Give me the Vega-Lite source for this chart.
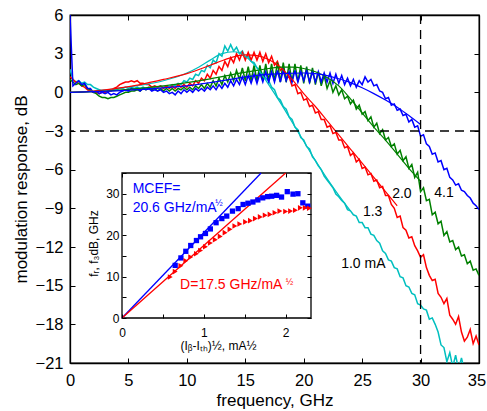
{
"$schema": "https://vega.github.io/schema/vega-lite/v6.json",
"width": 409, "height": 348,
"autosize": {"type": "none"},
"padding": {"left": 70, "top": 15, "right": 8, "bottom": 48},
"config": {"font": "Liberation Sans", "view": {"stroke": "black", "strokeWidth": 1.3},
  "axis": {"grid": false, "labelFlush": false, "domainColor": "black", "tickColor": "black", "labelColor": "black", "titleColor": "black", "titleFontWeight": "normal", "domainWidth": 1.3, "tickWidth": 1}},
"datasets": {
"meas": [
{"s":"c","f":0,"v":1.8},{"s":"c","f":0.25,"v":1.0},{"s":"c","f":0.5,"v":0.8},{"s":"c","f":0.75,"v":0.9},{"s":"c","f":1,"v":0.7},{"s":"c","f":1.25,"v":0.8},{"s":"c","f":1.5,"v":0.6},{"s":"c","f":1.75,"v":0.6},{"s":"c","f":2,"v":0.4},{"s":"c","f":2.25,"v":0.3},{"s":"c","f":2.5,"v":0.2},{"s":"c","f":2.75,"v":0.1},{"s":"c","f":3,"v":0.0},{"s":"c","f":3.25,"v":0.1},{"s":"c","f":3.5,"v":0.1},{"s":"c","f":3.75,"v":0.2},{"s":"c","f":4,"v":0.2},{"s":"c","f":4.25,"v":0.3},{"s":"c","f":4.5,"v":0.3},{"s":"c","f":4.75,"v":0.4},{"s":"c","f":5,"v":0.3},{"s":"c","f":5.25,"v":0.4},{"s":"c","f":5.5,"v":0.3},{"s":"c","f":5.75,"v":0.4},{"s":"c","f":6,"v":0.3},{"s":"c","f":6.25,"v":0.4},{"s":"c","f":6.5,"v":0.3},{"s":"c","f":6.75,"v":0.4},{"s":"c","f":7,"v":0.3},{"s":"c","f":7.25,"v":0.4},{"s":"c","f":7.5,"v":0.3},{"s":"c","f":7.75,"v":0.5},{"s":"c","f":8,"v":0.4},{"s":"c","f":8.25,"v":0.5},{"s":"c","f":8.5,"v":0.4},{"s":"c","f":8.75,"v":0.6},{"s":"c","f":9,"v":0.5},{"s":"c","f":9.25,"v":0.7},{"s":"c","f":9.5,"v":0.6},{"s":"c","f":9.75,"v":0.9},{"s":"c","f":10,"v":0.8},{"s":"c","f":10.25,"v":1.1},{"s":"c","f":10.5,"v":1.0},{"s":"c","f":10.75,"v":1.4},{"s":"c","f":11,"v":1.3},{"s":"c","f":11.25,"v":1.7},{"s":"c","f":11.5,"v":1.6},{"s":"c","f":11.75,"v":2.1},{"s":"c","f":12,"v":1.9},{"s":"c","f":12.25,"v":2.5},{"s":"c","f":12.5,"v":2.3},{"s":"c","f":12.75,"v":3.0},{"s":"c","f":13,"v":2.8},{"s":"c","f":13.25,"v":3.6},{"s":"c","f":13.5,"v":3.2},{"s":"c","f":13.75,"v":3.7},{"s":"c","f":14,"v":3.2},{"s":"c","f":14.25,"v":3.5},{"s":"c","f":14.5,"v":3.0},{"s":"c","f":14.75,"v":3.2},{"s":"c","f":15,"v":2.7},{"s":"c","f":15.25,"v":2.8},{"s":"c","f":15.5,"v":2.4},{"s":"c","f":15.75,"v":2.3},{"s":"c","f":16,"v":1.9},{"s":"c","f":16.25,"v":1.7},{"s":"c","f":16.5,"v":1.4},{"s":"c","f":16.75,"v":1.1},{"s":"c","f":17,"v":0.9},{"s":"c","f":17.25,"v":0.4},{"s":"c","f":17.5,"v":0.2},{"s":"c","f":17.75,"v":-0.4},{"s":"c","f":18,"v":-0.6},{"s":"c","f":18.25,"v":-1.1},{"s":"c","f":18.5,"v":-1.3},{"s":"c","f":18.75,"v":-1.9},{"s":"c","f":19,"v":-2.1},{"s":"c","f":19.25,"v":-2.7},{"s":"c","f":19.5,"v":-2.9},{"s":"c","f":19.75,"v":-3.5},{"s":"c","f":20,"v":-3.7},{"s":"c","f":20.25,"v":-4.2},{"s":"c","f":20.5,"v":-4.4},{"s":"c","f":20.75,"v":-5.0},{"s":"c","f":21,"v":-5.3},{"s":"c","f":21.25,"v":-5.7},{"s":"c","f":21.5,"v":-6.0},{"s":"c","f":21.75,"v":-6.5},{"s":"c","f":22,"v":-6.8},{"s":"c","f":22.25,"v":-7.1},{"s":"c","f":22.5,"v":-7.4},{"s":"c","f":22.75,"v":-7.9},{"s":"c","f":23,"v":-8.1},{"s":"c","f":23.25,"v":-8.4},{"s":"c","f":23.5,"v":-8.6},{"s":"c","f":23.75,"v":-9.1},{"s":"c","f":24,"v":-9.2},{"s":"c","f":24.25,"v":-9.5},{"s":"c","f":24.5,"v":-9.6},{"s":"c","f":24.75,"v":-10.1},{"s":"c","f":25,"v":-10.1},{"s":"c","f":25.25,"v":-10.5},{"s":"c","f":25.5,"v":-10.5},{"s":"c","f":25.75,"v":-11.0},{"s":"c","f":26,"v":-11.1},{"s":"c","f":26.25,"v":-11.5},{"s":"c","f":26.5,"v":-11.7},{"s":"c","f":26.75,"v":-12.3},{"s":"c","f":27,"v":-12.5},{"s":"c","f":27.25,"v":-13.0},{"s":"c","f":27.5,"v":-13.1},{"s":"c","f":27.75,"v":-13.6},{"s":"c","f":28,"v":-13.7},{"s":"c","f":28.25,"v":-14.3},{"s":"c","f":28.5,"v":-14.4},{"s":"c","f":28.75,"v":-15.0},{"s":"c","f":29,"v":-15.1},{"s":"c","f":29.25,"v":-15.6},{"s":"c","f":29.5,"v":-15.7},{"s":"c","f":29.75,"v":-16.4},{"s":"c","f":30,"v":-16.5},{"s":"c","f":30.25,"v":-16.8},{"s":"c","f":30.5,"v":-16.9},{"s":"c","f":30.75,"v":-17.6},{"s":"c","f":31,"v":-17.5},{"s":"c","f":31.25,"v":-18.0},{"s":"c","f":31.5,"v":-18.6},{"s":"c","f":31.75,"v":-19.6},{"s":"c","f":32,"v":-19.8},{"s":"c","f":32.25,"v":-20.9},{"s":"c","f":32.5,"v":-20.2},{"s":"c","f":32.75,"v":-21.3},{"s":"c","f":33,"v":-20.4},{"s":"c","f":33.25,"v":-21.5},{"s":"c","f":33.5,"v":-20.6},{"s":"c","f":33.75,"v":-21.6},
{"s":"r","f":0,"v":1.2},{"s":"r","f":0.25,"v":1.0},{"s":"r","f":0.5,"v":0.8},{"s":"r","f":0.75,"v":0.7},{"s":"r","f":1,"v":0.5},{"s":"r","f":1.25,"v":0.4},{"s":"r","f":1.5,"v":0.2},{"s":"r","f":1.75,"v":0.1},{"s":"r","f":2,"v":0.0},{"s":"r","f":2.25,"v":0.0},{"s":"r","f":2.5,"v":-0.1},{"s":"r","f":2.75,"v":0.0},{"s":"r","f":3,"v":0.0},{"s":"r","f":3.25,"v":0.1},{"s":"r","f":3.5,"v":0.1},{"s":"r","f":3.75,"v":0.3},{"s":"r","f":4,"v":0.4},{"s":"r","f":4.25,"v":0.6},{"s":"r","f":4.5,"v":0.7},{"s":"r","f":4.75,"v":0.8},{"s":"r","f":5,"v":0.8},{"s":"r","f":5.25,"v":0.9},{"s":"r","f":5.5,"v":0.8},{"s":"r","f":5.75,"v":0.9},{"s":"r","f":6,"v":0.7},{"s":"r","f":6.25,"v":0.7},{"s":"r","f":6.5,"v":0.6},{"s":"r","f":6.75,"v":0.6},{"s":"r","f":7,"v":0.4},{"s":"r","f":7.25,"v":0.5},{"s":"r","f":7.5,"v":0.4},{"s":"r","f":7.75,"v":0.5},{"s":"r","f":8,"v":0.3},{"s":"r","f":8.25,"v":0.5},{"s":"r","f":8.5,"v":0.3},{"s":"r","f":8.75,"v":0.5},{"s":"r","f":9,"v":0.3},{"s":"r","f":9.25,"v":0.6},{"s":"r","f":9.5,"v":0.4},{"s":"r","f":9.75,"v":0.6},{"s":"r","f":10,"v":0.4},{"s":"r","f":10.25,"v":0.7},{"s":"r","f":10.5,"v":0.5},{"s":"r","f":10.75,"v":0.9},{"s":"r","f":11,"v":0.7},{"s":"r","f":11.25,"v":1.1},{"s":"r","f":11.5,"v":0.9},{"s":"r","f":11.75,"v":1.4},{"s":"r","f":12,"v":1.1},{"s":"r","f":12.25,"v":1.7},{"s":"r","f":12.5,"v":1.4},{"s":"r","f":12.75,"v":2.0},{"s":"r","f":13,"v":1.7},{"s":"r","f":13.25,"v":2.4},{"s":"r","f":13.5,"v":2.0},{"s":"r","f":13.75,"v":2.7},{"s":"r","f":14,"v":2.3},{"s":"r","f":14.25,"v":3.0},{"s":"r","f":14.5,"v":2.5},{"s":"r","f":14.75,"v":3.1},{"s":"r","f":15,"v":2.5},{"s":"r","f":15.25,"v":3.1},{"s":"r","f":15.5,"v":2.5},{"s":"r","f":15.75,"v":3.1},{"s":"r","f":16,"v":2.5},{"s":"r","f":16.25,"v":3.1},{"s":"r","f":16.5,"v":2.4},{"s":"r","f":16.75,"v":3.0},{"s":"r","f":17,"v":2.3},{"s":"r","f":17.25,"v":2.8},{"s":"r","f":17.5,"v":2.1},{"s":"r","f":17.75,"v":2.4},{"s":"r","f":18,"v":1.7},{"s":"r","f":18.25,"v":1.9},{"s":"r","f":18.5,"v":1.1},{"s":"r","f":18.75,"v":1.2},{"s":"r","f":19,"v":0.5},{"s":"r","f":19.25,"v":0.6},{"s":"r","f":19.5,"v":-0.1},{"s":"r","f":19.75,"v":0.0},{"s":"r","f":20,"v":-0.6},{"s":"r","f":20.25,"v":-0.5},{"s":"r","f":20.5,"v":-1.1},{"s":"r","f":20.75,"v":-1.0},{"s":"r","f":21,"v":-1.6},{"s":"r","f":21.25,"v":-1.5},{"s":"r","f":21.5,"v":-2.1},{"s":"r","f":21.75,"v":-2.1},{"s":"r","f":22,"v":-2.7},{"s":"r","f":22.25,"v":-2.6},{"s":"r","f":22.5,"v":-3.2},{"s":"r","f":22.75,"v":-3.1},{"s":"r","f":23,"v":-3.7},{"s":"r","f":23.25,"v":-3.7},{"s":"r","f":23.5,"v":-4.3},{"s":"r","f":23.75,"v":-4.2},{"s":"r","f":24,"v":-4.9},{"s":"r","f":24.25,"v":-4.7},{"s":"r","f":24.5,"v":-5.4},{"s":"r","f":24.75,"v":-5.2},{"s":"r","f":25,"v":-5.9},{"s":"r","f":25.25,"v":-5.8},{"s":"r","f":25.5,"v":-6.4},{"s":"r","f":25.75,"v":-6.3},{"s":"r","f":26,"v":-6.9},{"s":"r","f":26.25,"v":-6.8},{"s":"r","f":26.5,"v":-7.4},{"s":"r","f":26.75,"v":-7.3},{"s":"r","f":27,"v":-8.0},{"s":"r","f":27.25,"v":-8.0},{"s":"r","f":27.5,"v":-8.7},{"s":"r","f":27.75,"v":-9.0},{"s":"r","f":28,"v":-9.7},{"s":"r","f":28.25,"v":-9.6},{"s":"r","f":28.5,"v":-10.5},{"s":"r","f":28.75,"v":-10.7},{"s":"r","f":29,"v":-11.3},{"s":"r","f":29.25,"v":-11.2},{"s":"r","f":29.5,"v":-11.9},{"s":"r","f":29.75,"v":-12.3},{"s":"r","f":30,"v":-12.8},{"s":"r","f":30.25,"v":-12.6},{"s":"r","f":30.5,"v":-13.6},{"s":"r","f":30.75,"v":-14.2},{"s":"r","f":31,"v":-14.6},{"s":"r","f":31.25,"v":-14.5},{"s":"r","f":31.5,"v":-15.6},{"s":"r","f":31.75,"v":-15.9},{"s":"r","f":32,"v":-16.4},{"s":"r","f":32.25,"v":-16.0},{"s":"r","f":32.5,"v":-17.3},{"s":"r","f":32.75,"v":-17.6},{"s":"r","f":33,"v":-18.0},{"s":"r","f":33.25,"v":-17.4},{"s":"r","f":33.5,"v":-18.6},{"s":"r","f":33.75,"v":-19.3},{"s":"r","f":34,"v":-19.0},{"s":"r","f":34.25,"v":-18.4},{"s":"r","f":34.5,"v":-19.5},{"s":"r","f":34.75,"v":-18.9},{"s":"r","f":35,"v":-19.6},
{"s":"g","f":0,"v":1.0},{"s":"g","f":0.25,"v":0.8},{"s":"g","f":0.5,"v":0.6},{"s":"g","f":0.75,"v":0.7},{"s":"g","f":1,"v":0.5},{"s":"g","f":1.25,"v":0.6},{"s":"g","f":1.5,"v":0.3},{"s":"g","f":1.75,"v":0.2},{"s":"g","f":2,"v":0.0},{"s":"g","f":2.25,"v":-0.1},{"s":"g","f":2.5,"v":-0.3},{"s":"g","f":2.75,"v":-0.4},{"s":"g","f":3,"v":-0.4},{"s":"g","f":3.25,"v":-0.5},{"s":"g","f":3.5,"v":-0.4},{"s":"g","f":3.75,"v":-0.4},{"s":"g","f":4,"v":-0.3},{"s":"g","f":4.25,"v":-0.2},{"s":"g","f":4.5,"v":-0.1},{"s":"g","f":4.75,"v":0.0},{"s":"g","f":5,"v":0.0},{"s":"g","f":5.25,"v":0.1},{"s":"g","f":5.5,"v":0.1},{"s":"g","f":5.75,"v":0.2},{"s":"g","f":6,"v":0.1},{"s":"g","f":6.25,"v":0.3},{"s":"g","f":6.5,"v":0.2},{"s":"g","f":6.75,"v":0.3},{"s":"g","f":7,"v":0.2},{"s":"g","f":7.25,"v":0.3},{"s":"g","f":7.5,"v":0.1},{"s":"g","f":7.75,"v":0.3},{"s":"g","f":8,"v":0.1},{"s":"g","f":8.25,"v":0.3},{"s":"g","f":8.5,"v":0.1},{"s":"g","f":8.75,"v":0.3},{"s":"g","f":9,"v":0.1},{"s":"g","f":9.25,"v":0.3},{"s":"g","f":9.5,"v":0.2},{"s":"g","f":9.75,"v":0.4},{"s":"g","f":10,"v":0.2},{"s":"g","f":10.25,"v":0.4},{"s":"g","f":10.5,"v":0.2},{"s":"g","f":10.75,"v":0.5},{"s":"g","f":11,"v":0.3},{"s":"g","f":11.25,"v":0.6},{"s":"g","f":11.5,"v":0.3},{"s":"g","f":11.75,"v":0.7},{"s":"g","f":12,"v":0.4},{"s":"g","f":12.25,"v":0.9},{"s":"g","f":12.5,"v":0.5},{"s":"g","f":12.75,"v":1.1},{"s":"g","f":13,"v":0.6},{"s":"g","f":13.25,"v":1.3},{"s":"g","f":13.5,"v":0.8},{"s":"g","f":13.75,"v":1.5},{"s":"g","f":14,"v":0.9},{"s":"g","f":14.25,"v":1.7},{"s":"g","f":14.5,"v":1.0},{"s":"g","f":14.75,"v":1.9},{"s":"g","f":15,"v":0.9},{"s":"g","f":15.25,"v":2.0},{"s":"g","f":15.5,"v":0.9},{"s":"g","f":15.75,"v":2.1},{"s":"g","f":16,"v":0.9},{"s":"g","f":16.25,"v":2.1},{"s":"g","f":16.5,"v":0.9},{"s":"g","f":16.75,"v":2.2},{"s":"g","f":17,"v":0.9},{"s":"g","f":17.25,"v":2.2},{"s":"g","f":17.5,"v":0.9},{"s":"g","f":17.75,"v":2.3},{"s":"g","f":18,"v":0.8},{"s":"g","f":18.25,"v":2.3},{"s":"g","f":18.5,"v":0.8},{"s":"g","f":18.75,"v":2.2},{"s":"g","f":19,"v":0.8},{"s":"g","f":19.25,"v":2.2},{"s":"g","f":19.5,"v":0.8},{"s":"g","f":19.75,"v":2.1},{"s":"g","f":20,"v":0.7},{"s":"g","f":20.25,"v":2.0},{"s":"g","f":20.5,"v":0.7},{"s":"g","f":20.75,"v":1.9},{"s":"g","f":21,"v":0.6},{"s":"g","f":21.25,"v":1.6},{"s":"g","f":21.5,"v":0.5},{"s":"g","f":21.75,"v":1.3},{"s":"g","f":22,"v":0.3},{"s":"g","f":22.25,"v":0.9},{"s":"g","f":22.5,"v":0.0},{"s":"g","f":22.75,"v":0.5},{"s":"g","f":23,"v":-0.2},{"s":"g","f":23.25,"v":0.2},{"s":"g","f":23.5,"v":-0.5},{"s":"g","f":23.75,"v":-0.3},{"s":"g","f":24,"v":-0.9},{"s":"g","f":24.25,"v":-0.6},{"s":"g","f":24.5,"v":-1.3},{"s":"g","f":24.75,"v":-1.0},{"s":"g","f":25,"v":-1.7},{"s":"g","f":25.25,"v":-1.5},{"s":"g","f":25.5,"v":-2.2},{"s":"g","f":25.75,"v":-1.9},{"s":"g","f":26,"v":-2.7},{"s":"g","f":26.25,"v":-2.4},{"s":"g","f":26.5,"v":-3.2},{"s":"g","f":26.75,"v":-2.9},{"s":"g","f":27,"v":-3.7},{"s":"g","f":27.25,"v":-3.5},{"s":"g","f":27.5,"v":-4.2},{"s":"g","f":27.75,"v":-4.0},{"s":"g","f":28,"v":-4.8},{"s":"g","f":28.25,"v":-4.5},{"s":"g","f":28.5,"v":-5.3},{"s":"g","f":28.75,"v":-5.0},{"s":"g","f":29,"v":-5.9},{"s":"g","f":29.25,"v":-5.6},{"s":"g","f":29.5,"v":-6.6},{"s":"g","f":29.75,"v":-6.2},{"s":"g","f":30,"v":-7.7},{"s":"g","f":30.25,"v":-7.4},{"s":"g","f":30.5,"v":-8.4},{"s":"g","f":30.75,"v":-8.3},{"s":"g","f":31,"v":-9.5},{"s":"g","f":31.25,"v":-9.3},{"s":"g","f":31.5,"v":-10.2},{"s":"g","f":31.75,"v":-10.0},{"s":"g","f":32,"v":-11.1},{"s":"g","f":32.25,"v":-10.8},{"s":"g","f":32.5,"v":-11.6},{"s":"g","f":32.75,"v":-11.5},{"s":"g","f":33,"v":-12.2},{"s":"g","f":33.25,"v":-12.0},{"s":"g","f":33.5,"v":-12.7},{"s":"g","f":33.75,"v":-12.6},{"s":"g","f":34,"v":-13.3},{"s":"g","f":34.25,"v":-13.1},{"s":"g","f":34.5,"v":-13.8},{"s":"g","f":34.75,"v":-13.7},{"s":"g","f":35,"v":-14.2},
{"s":"b","f":0,"v":6.0},{"s":"b","f":0.25,"v":0.5},{"s":"b","f":0.5,"v":0.7},{"s":"b","f":0.75,"v":0.9},{"s":"b","f":1,"v":0.6},{"s":"b","f":1.25,"v":0.7},{"s":"b","f":1.5,"v":0.3},{"s":"b","f":1.75,"v":0.3},{"s":"b","f":2,"v":0.0},{"s":"b","f":2.25,"v":0.1},{"s":"b","f":2.5,"v":-0.1},{"s":"b","f":2.75,"v":0.0},{"s":"b","f":3,"v":-0.1},{"s":"b","f":3.25,"v":0.0},{"s":"b","f":3.5,"v":-0.2},{"s":"b","f":3.75,"v":-0.1},{"s":"b","f":4,"v":-0.2},{"s":"b","f":4.25,"v":0.0},{"s":"b","f":4.5,"v":0.1},{"s":"b","f":4.75,"v":0.2},{"s":"b","f":5,"v":0.1},{"s":"b","f":5.25,"v":0.3},{"s":"b","f":5.5,"v":0.2},{"s":"b","f":5.75,"v":0.3},{"s":"b","f":6,"v":0.1},{"s":"b","f":6.25,"v":0.3},{"s":"b","f":6.5,"v":0.2},{"s":"b","f":6.75,"v":0.3},{"s":"b","f":7,"v":0.1},{"s":"b","f":7.25,"v":0.2},{"s":"b","f":7.5,"v":0.1},{"s":"b","f":7.75,"v":0.2},{"s":"b","f":8,"v":0.0},{"s":"b","f":8.25,"v":0.1},{"s":"b","f":8.5,"v":-0.1},{"s":"b","f":8.75,"v":0.0},{"s":"b","f":9,"v":-0.2},{"s":"b","f":9.25,"v":0.1},{"s":"b","f":9.5,"v":-0.1},{"s":"b","f":9.75,"v":0.2},{"s":"b","f":10,"v":0.0},{"s":"b","f":10.25,"v":0.2},{"s":"b","f":10.5,"v":0.0},{"s":"b","f":10.75,"v":0.3},{"s":"b","f":11,"v":0.1},{"s":"b","f":11.25,"v":0.3},{"s":"b","f":11.5,"v":0.1},{"s":"b","f":11.75,"v":0.4},{"s":"b","f":12,"v":0.2},{"s":"b","f":12.25,"v":0.5},{"s":"b","f":12.5,"v":0.2},{"s":"b","f":12.75,"v":0.6},{"s":"b","f":13,"v":0.3},{"s":"b","f":13.25,"v":0.7},{"s":"b","f":13.5,"v":0.4},{"s":"b","f":13.75,"v":0.9},{"s":"b","f":14,"v":0.5},{"s":"b","f":14.25,"v":1.0},{"s":"b","f":14.5,"v":0.6},{"s":"b","f":14.75,"v":1.2},{"s":"b","f":15,"v":0.6},{"s":"b","f":15.25,"v":1.3},{"s":"b","f":15.5,"v":0.7},{"s":"b","f":15.75,"v":1.4},{"s":"b","f":16,"v":0.7},{"s":"b","f":16.25,"v":1.5},{"s":"b","f":16.5,"v":0.8},{"s":"b","f":16.75,"v":1.6},{"s":"b","f":17,"v":0.8},{"s":"b","f":17.25,"v":1.6},{"s":"b","f":17.5,"v":0.8},{"s":"b","f":17.75,"v":1.7},{"s":"b","f":18,"v":0.8},{"s":"b","f":18.25,"v":1.7},{"s":"b","f":18.5,"v":0.9},{"s":"b","f":18.75,"v":1.6},{"s":"b","f":19,"v":0.8},{"s":"b","f":19.25,"v":1.7},{"s":"b","f":19.5,"v":0.8},{"s":"b","f":19.75,"v":1.6},{"s":"b","f":20,"v":0.9},{"s":"b","f":20.25,"v":1.7},{"s":"b","f":20.5,"v":0.8},{"s":"b","f":20.75,"v":1.6},{"s":"b","f":21,"v":0.8},{"s":"b","f":21.25,"v":1.6},{"s":"b","f":21.5,"v":0.8},{"s":"b","f":21.75,"v":1.5},{"s":"b","f":22,"v":0.8},{"s":"b","f":22.25,"v":1.5},{"s":"b","f":22.5,"v":0.7},{"s":"b","f":22.75,"v":1.4},{"s":"b","f":23,"v":0.7},{"s":"b","f":23.25,"v":1.3},{"s":"b","f":23.5,"v":0.6},{"s":"b","f":23.75,"v":1.1},{"s":"b","f":24,"v":0.5},{"s":"b","f":24.25,"v":1.0},{"s":"b","f":24.5,"v":0.4},{"s":"b","f":24.75,"v":0.9},{"s":"b","f":25,"v":0.6},{"s":"b","f":25.25,"v":1.2},{"s":"b","f":25.5,"v":0.8},{"s":"b","f":25.75,"v":1.0},{"s":"b","f":26,"v":0.5},{"s":"b","f":26.25,"v":0.6},{"s":"b","f":26.5,"v":0.1},{"s":"b","f":26.75,"v":0.0},{"s":"b","f":27,"v":-0.5},{"s":"b","f":27.25,"v":-0.4},{"s":"b","f":27.5,"v":-1.0},{"s":"b","f":27.75,"v":-0.9},{"s":"b","f":28,"v":-1.4},{"s":"b","f":28.25,"v":-1.3},{"s":"b","f":28.5,"v":-1.8},{"s":"b","f":28.75,"v":-1.7},{"s":"b","f":29,"v":-2.3},{"s":"b","f":29.25,"v":-2.1},{"s":"b","f":29.5,"v":-2.7},{"s":"b","f":29.75,"v":-2.6},{"s":"b","f":30,"v":-3.4},{"s":"b","f":30.25,"v":-3.3},{"s":"b","f":30.5,"v":-4.0},{"s":"b","f":30.75,"v":-4.2},{"s":"b","f":31,"v":-4.8},{"s":"b","f":31.25,"v":-4.7},{"s":"b","f":31.5,"v":-5.4},{"s":"b","f":31.75,"v":-5.3},{"s":"b","f":32,"v":-6.0},{"s":"b","f":32.25,"v":-5.9},{"s":"b","f":32.5,"v":-6.6},{"s":"b","f":32.75,"v":-6.8},{"s":"b","f":33,"v":-7.2},{"s":"b","f":33.25,"v":-7.1},{"s":"b","f":33.5,"v":-7.6},{"s":"b","f":33.75,"v":-7.7},{"s":"b","f":34,"v":-8.0},{"s":"b","f":34.25,"v":-8.2},{"s":"b","f":34.5,"v":-8.6},{"s":"b","f":34.75,"v":-8.8},{"s":"b","f":35,"v":-9.1}
],
"fit": [
{"s":"c","f":0,"v":0},{"s":"c","f":2,"v":0.1},{"s":"c","f":4,"v":0.3},{"s":"c","f":6,"v":0.55},{"s":"c","f":8,"v":0.9},{"s":"c","f":10,"v":1.5},{"s":"c","f":11,"v":1.95},{"s":"c","f":12,"v":2.5},{"s":"c","f":13,"v":3.0},{"s":"c","f":14,"v":3.15},{"s":"c","f":15,"v":2.8},{"s":"c","f":16,"v":1.9},{"s":"c","f":17,"v":0.6},{"s":"c","f":18,"v":-0.8},{"s":"c","f":19,"v":-2.3},{"s":"c","f":20,"v":-3.8},{"s":"c","f":21,"v":-5.3},{"s":"c","f":22,"v":-6.7},{"s":"c","f":23,"v":-8.0},{"s":"c","f":24,"v":-9.2},
{"s":"r","f":0,"v":0},{"s":"r","f":2,"v":0.1},{"s":"r","f":4,"v":0.3},{"s":"r","f":6,"v":0.6},{"s":"r","f":8,"v":1.0},{"s":"r","f":10,"v":1.45},{"s":"r","f":12,"v":2.1},{"s":"r","f":13,"v":2.45},{"s":"r","f":14,"v":2.75},{"s":"r","f":15,"v":2.9},{"s":"r","f":16,"v":2.85},{"s":"r","f":17,"v":2.55},{"s":"r","f":18,"v":1.95},{"s":"r","f":19,"v":1.0},{"s":"r","f":20,"v":-0.1},{"s":"r","f":21,"v":-1.1},{"s":"r","f":22,"v":-2.2},{"s":"r","f":23,"v":-3.3},{"s":"r","f":24,"v":-4.4},{"s":"r","f":25,"v":-5.5},{"s":"r","f":26,"v":-6.6},{"s":"r","f":27,"v":-7.7},{"s":"r","f":28,"v":-8.8},
{"s":"g","f":0,"v":0},{"s":"g","f":2,"v":0.05},{"s":"g","f":4,"v":0.15},{"s":"g","f":6,"v":0.3},{"s":"g","f":8,"v":0.5},{"s":"g","f":10,"v":0.75},{"s":"g","f":12,"v":1.05},{"s":"g","f":14,"v":1.4},{"s":"g","f":16,"v":1.7},{"s":"g","f":17,"v":1.85},{"s":"g","f":18,"v":1.95},{"s":"g","f":19,"v":1.95},{"s":"g","f":20,"v":1.85},{"s":"g","f":21,"v":1.6},{"s":"g","f":22,"v":1.15},{"s":"g","f":23,"v":0.5},{"s":"g","f":24,"v":-0.5},{"s":"g","f":25,"v":-1.6},{"s":"g","f":26,"v":-2.7},{"s":"g","f":27,"v":-3.7},{"s":"g","f":28,"v":-4.8},{"s":"g","f":29,"v":-5.9},{"s":"g","f":30,"v":-6.9},
{"s":"b","f":0,"v":0},{"s":"b","f":2,"v":0.05},{"s":"b","f":4,"v":0.12},{"s":"b","f":6,"v":0.22},{"s":"b","f":8,"v":0.35},{"s":"b","f":10,"v":0.5},{"s":"b","f":12,"v":0.75},{"s":"b","f":14,"v":1.05},{"s":"b","f":15,"v":1.2},{"s":"b","f":16,"v":1.32},{"s":"b","f":18,"v":1.45},{"s":"b","f":20,"v":1.5},{"s":"b","f":21,"v":1.45},{"s":"b","f":22,"v":1.3},{"s":"b","f":23,"v":1.05},{"s":"b","f":24,"v":0.75},{"s":"b","f":25,"v":0.35},{"s":"b","f":26,"v":-0.1},{"s":"b","f":27,"v":-0.6},{"s":"b","f":28,"v":-1.15},{"s":"b","f":29,"v":-1.8},{"s":"b","f":30,"v":-2.5}
],
"curvelabels": [
{"f":32.0,"v":-7.8,"t":"4.1"},{"f":28.4,"v":-7.9,"t":"2.0"},{"f":25.9,"v":-9.3,"t":"1.3"},{"f":25.1,"v":-13.3,"t":"1.0 mA"}
],
"sq": [
{"x":0.65,"y":12.7},{"x":0.72,"y":14.5},{"x":0.78,"y":16.1},{"x":0.84,"y":17.5},{"x":0.91,"y":18.7},{"x":0.96,"y":19.6},{"x":1.02,"y":20.4},{"x":1.08,"y":21.5},{"x":1.15,"y":23.0},{"x":1.22,"y":24.0},{"x":1.28,"y":24.6},{"x":1.35,"y":25.8},{"x":1.42,"y":26.4},{"x":1.48,"y":27.4},{"x":1.54,"y":27.7},{"x":1.60,"y":28.0},{"x":1.66,"y":28.5},{"x":1.72,"y":29.0},{"x":1.78,"y":29.3},{"x":1.83,"y":29.4},{"x":1.89,"y":29.6},{"x":1.95,"y":29.2},{"x":2.02,"y":30.5},{"x":2.09,"y":29.9},{"x":2.15,"y":30.0},{"x":2.21,"y":27.8},{"x":2.27,"y":27.0}
],
"tri": [
{"x":0.59,"y":9.9},{"x":0.65,"y":11.2},{"x":0.72,"y":12.6},{"x":0.78,"y":13.8},{"x":0.84,"y":14.7},{"x":0.91,"y":15.5},{"x":0.96,"y":16.3},{"x":1.02,"y":17.2},{"x":1.08,"y":18.1},{"x":1.14,"y":18.9},{"x":1.20,"y":19.7},{"x":1.26,"y":20.6},{"x":1.32,"y":21.4},{"x":1.38,"y":22.2},{"x":1.44,"y":22.7},{"x":1.51,"y":23.2},{"x":1.57,"y":23.5},{"x":1.63,"y":24.0},{"x":1.69,"y":24.4},{"x":1.75,"y":24.8},{"x":1.81,"y":25.0},{"x":1.87,"y":25.4},{"x":1.93,"y":25.8},{"x":2.00,"y":25.7},{"x":2.06,"y":25.8},{"x":2.12,"y":26.0},{"x":2.18,"y":26.6},{"x":2.24,"y":26.6},{"x":2.29,"y":26.5}
],
"slopes": [
{"s":"b","x":0,"y":0},{"s":"b","x":1.7,"y":35},{"s":"r","x":0,"y":0},{"s":"r","x":2.0,"y":35}
],
"notes": [
{"s":"b","x":0.13,"y":31.1,"t":"MCEF="},{"s":"b","x":0.13,"y":26.6,"t":"20.6 GHz/mA"},{"s":"r","x":0.71,"y":8.0,"t":"D=17.5 GHz/mA"}
],
"halves": [
{"s":"b","x":1.14,"y":27.7,"t":"½"},{"s":"r","x":2.0,"y":8.8,"t":"½"}
]
},
"layer": [
{
"layer": [
{"data": {"name": "meas"}, "mark": {"type": "line", "strokeWidth": 1.5, "clip": true},
 "encoding": {
  "x": {"field": "f", "type": "quantitative", "scale": {"domain": [0, 35], "nice": false, "zero": false},
    "axis": {"orient": "bottom", "values": [0,5,10,15,20,25,30,35], "tickSize": -5, "labelPadding": 14, "labelFontSize": 16.5, "labelFlush": false, "labelOffset": {"condition": {"test": "datum.value === 35", "value": -2.5}, "value": 0}, "title": "frequency, GHz", "titleFontSize": 17, "titleX": 204.5, "titleY": 42, "titleBaseline": "alphabetic", "titleAlign": "center"}},
  "y": {"field": "v", "type": "quantitative", "scale": {"domain": [-21, 6], "nice": false, "zero": false},
    "axis": {"orient": "left", "values": [-21,-18,-15,-12,-9,-6,-3,0,3,6], "format": "d", "tickSize": -5, "labelPadding": 12, "labelFontSize": 16.5, "labelFlush": false, "title": "modulation response, dB", "titleFontSize": 17, "titleX": -43.5, "titleY": 174, "titleAngle": -90, "titleBaseline": "alphabetic", "titleAlign": "center"}},
  "color": {"field": "s", "type": "nominal", "scale": {"domain": ["c","r","g","b"], "range": ["#00BFBF","#FF0000","#008000","#0000FF"]}, "legend": null}
 }},
{"data": {"name": "fit"}, "mark": {"type": "line", "strokeWidth": 1.2, "interpolate": "monotone", "clip": true},
 "encoding": {
  "x": {"field": "f", "type": "quantitative", "scale": {"domain": [0, 35], "nice": false, "zero": false},
    "axis": {"orient": "top", "values": [0,5,10,15,20,25,30,35], "tickSize": -5, "labels": false, "title": null}},
  "y": {"field": "v", "type": "quantitative", "scale": {"domain": [-21, 6], "nice": false, "zero": false},
    "axis": {"orient": "right", "values": [-21,-18,-15,-12,-9,-6,-3,0,3,6], "tickSize": -5, "labels": false, "title": null}},
  "color": {"field": "s", "type": "nominal", "scale": {"domain": ["c","r","g","b"], "range": ["#00BFBF","#FF0000","#008000","#0000FF"]}, "legend": null}
 }},
{"data": {"values": [{"v": -3}]}, "mark": {"type": "rule", "color": "black", "strokeWidth": 1.3, "strokeDash": [9, 6]},
 "encoding": {"y": {"field": "v", "type": "quantitative", "scale": {"domain": [-21, 6], "nice": false, "zero": false}, "axis": null}}},
{"data": {"values": [{"f": 30}]}, "mark": {"type": "rule", "color": "black", "strokeWidth": 1.3, "strokeDash": [9, 6]},
 "encoding": {"x": {"field": "f", "type": "quantitative", "scale": {"domain": [0, 35], "nice": false, "zero": false}, "axis": null}}},
{"data": {"name": "curvelabels"}, "mark": {"type": "text", "fontSize": 14, "align": "center", "baseline": "middle", "color": "black"},
 "encoding": {
  "x": {"field": "f", "type": "quantitative", "scale": {"domain": [0, 35], "nice": false, "zero": false}, "axis": null},
  "y": {"field": "v", "type": "quantitative", "scale": {"domain": [-21, 6], "nice": false, "zero": false}, "axis": null},
  "text": {"field": "t"}
 }}
]
},
{
"layer": [
{"data": {"values": [{}]}, "mark": {"type": "rect", "fill": "white", "stroke": "black", "strokeWidth": 1.3},
 "encoding": {
  "x": {"datum": 0, "type": "quantitative", "scale": {"domain": [0, 2.31], "range": [52, 241], "nice": false, "zero": false}, "axis": null},
  "x2": {"datum": 2.31},
  "y": {"datum": 0, "type": "quantitative", "scale": {"domain": [0, 35], "range": [303, 158], "nice": false, "zero": false}, "axis": null},
  "y2": {"datum": 35}
 }},
{"data": {"name": "slopes"}, "mark": {"type": "line", "strokeWidth": 1.3},
 "encoding": {
  "x": {"field": "x", "type": "quantitative", "scale": {"domain": [0, 2.31], "range": [52, 241], "nice": false, "zero": false},
    "axis": {"orient": "top", "offset": -158, "values": [0,0.5,1,1.5,2], "tickSize": -4, "labels": false, "title": null, "domain": false, "zindex": 1}},
  "y": {"field": "y", "type": "quantitative", "scale": {"domain": [0, 35], "range": [303, 158], "nice": false, "zero": false},
    "axis": {"orient": "right", "offset": -168, "values": [0,5,10,15,20,25,30,35], "tickSize": -4, "labels": false, "title": null, "domain": false, "zindex": 1}},
  "color": {"field": "s", "type": "nominal", "scale": {"domain": ["c","r","g","b"], "range": ["#00BFBF","#FF0000","#008000","#0000FF"]}, "legend": null}
 }},
{"data": {"name": "sq"}, "mark": {"type": "point", "shape": "square", "filled": true, "size": 28, "opacity": 1, "color": "#0000FF"},
 "encoding": {
  "x": {"field": "x", "type": "quantitative", "scale": {"domain": [0, 2.31], "range": [52, 241], "nice": false, "zero": false},
    "axis": {"orient": "bottom", "offset": -45, "values": [0,0.5,1,1.5,2], "labelExpr": "datum.value % 1 === 0 ? format(datum.value, 'd') : ''", "tickSize": -4, "labelPadding": 13, "labelFontSize": 12, "labelFlush": false, "domain": false, "zindex": 1,
      "title": "(Iᵦ-Iₜₕ)½, mA½", "titleFontSize": 12, "titleX": 148, "titleY": 31, "titleBaseline": "alphabetic", "titleAlign": "center"}},
  "y": {"field": "y", "type": "quantitative", "scale": {"domain": [0, 35], "range": [303, 158], "nice": false, "zero": false},
    "axis": {"orient": "left", "offset": -52, "values": [0,5,10,15,20,25,30,35], "labelExpr": "datum.value % 10 === 0 ? format(datum.value, 'd') : ''", "tickSize": -4, "labelPadding": 7, "labelFontSize": 12, "labelFlush": false, "domain": false, "zindex": 1,
      "title": "fᵣ, f₃dB, GHz", "titleFontSize": 12, "titleX": -25, "titleY": 228, "titleAngle": -90, "titleBaseline": "alphabetic", "titleAlign": "center"}}
 }},
{"data": {"name": "tri"}, "mark": {"type": "point", "shape": "triangle-right", "filled": true, "size": 32, "opacity": 1, "color": "#FF0000"},
 "encoding": {
  "x": {"field": "x", "type": "quantitative", "scale": {"domain": [0, 2.31], "range": [52, 241], "nice": false, "zero": false}, "axis": null},
  "y": {"field": "y", "type": "quantitative", "scale": {"domain": [0, 35], "range": [303, 158], "nice": false, "zero": false}, "axis": null}
 }},
{"data": {"name": "notes"}, "mark": {"type": "text", "fontSize": 14, "align": "left", "baseline": "middle"},
 "encoding": {
  "x": {"field": "x", "type": "quantitative", "scale": {"domain": [0, 2.31], "range": [52, 241], "nice": false, "zero": false}, "axis": null},
  "y": {"field": "y", "type": "quantitative", "scale": {"domain": [0, 35], "range": [303, 158], "nice": false, "zero": false}, "axis": null},
  "text": {"field": "t"},
  "color": {"field": "s", "type": "nominal", "scale": {"domain": ["c","r","g","b"], "range": ["#00BFBF","#FF0000","#008000","#0000FF"]}, "legend": null}
 }},
{"data": {"name": "halves"}, "mark": {"type": "text", "fontSize": 9, "align": "left", "baseline": "middle"},
 "encoding": {
  "x": {"field": "x", "type": "quantitative", "scale": {"domain": [0, 2.31], "range": [52, 241], "nice": false, "zero": false}, "axis": null},
  "y": {"field": "y", "type": "quantitative", "scale": {"domain": [0, 35], "range": [303, 158], "nice": false, "zero": false}, "axis": null},
  "text": {"field": "t"},
  "color": {"field": "s", "type": "nominal", "scale": {"domain": ["c","r","g","b"], "range": ["#00BFBF","#FF0000","#008000","#0000FF"]}, "legend": null}
 }}
]
}
],
"resolve": {"scale": {"x": "independent", "y": "independent"}}
}
